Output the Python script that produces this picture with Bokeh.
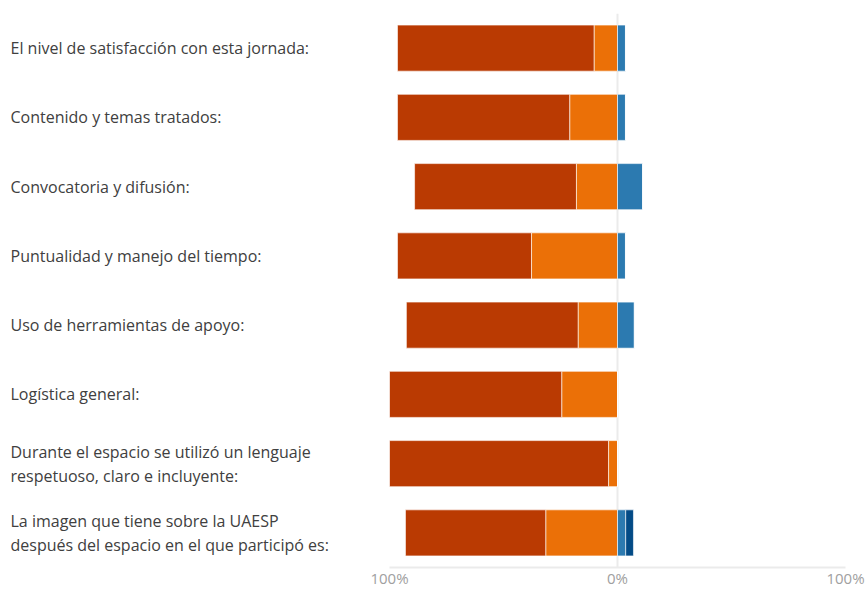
from bokeh.plotting import figure
from bokeh.layouts import row
from bokeh.models import Range1d, FactorRange, FixedTicker, ColumnDataSource
from bokeh.core.properties import value
from bokeh.embed import file_html
from bokeh.resources import INLINE

categories = [
    "El nivel de satisfacción con esta jornada:",
    "Contenido y temas tratados:",
    "Convocatoria y difusión:",
    "Puntualidad y manejo del tiempo:",
    "Uso de herramientas de apoyo:",
    "Logística general:",
    "Durante el espacio se utilizó un lenguaje\nrespetuoso, claro e incluyente:",
    "La imagen que tiene sobre la UAESP\ndespués del espacio en el que participó es:",
]
very_neg = [86.3, 75.6, 71.0, 58.8, 75.4, 75.6, 96.1, 61.6]
neg = [10.2, 20.9, 18.0, 37.7, 17.2, 24.4, 3.9, 31.4]
pos = [3.5, 3.5, 11.0, 3.5, 7.4, 0.0, 0.0, 3.6]
very_pos = [0.0, 0.0, 0.0, 0.0, 0.0, 0.0, 0.0, 3.4]
tick_values = [-100, 0, 100]
tick_labels = {-100: "100%", 0: "0%", 100: "100%"}

colors = ["#BA3A02", "#EB7007", "#2C7AB0", "#034B86"]

y_range = FactorRange(factors=list(reversed(categories)), range_padding=0)

src = ColumnDataSource(dict(
    cat=categories,
    vn_l=[-(a + b) for a, b in zip(very_neg, neg)],
    vn_r=[-b for b in neg],
    n_l=[-b for b in neg],
    zero=[0.0] * len(categories),
    p_r=pos,
    vp_r=[a + b for a, b in zip(pos, very_pos)],
))

FONT = "Open Sans"
TOP = 13
FH = 554

# label panel
lab = figure(width=360, frame_height=FH, x_range=Range1d(0, 1), y_range=y_range,
             toolbar_location=None, output_backend="svg",
             min_border_left=10, min_border_right=0, min_border_top=TOP,
             min_border_bottom=22, outline_line_color=None)
lab.axis.visible = False
lab.grid.visible = False
lab.text(x=0, y="cat", text="cat", source=src, text_align="left",
         text_baseline="middle", text_font=value(FONT), text_font_size="16px",
         text_color="#404040", text_line_height=1.1)

p = figure(frame_width=456, frame_height=FH, x_range=Range1d(-100, 100), y_range=y_range,
           toolbar_location=None, output_backend="svg",
           min_border_left=29, min_border_right=22, min_border_top=TOP,
           min_border_bottom=22, outline_line_color=None)
p.yaxis.visible = False
p.ygrid.visible = False
p.xgrid.ticker = FixedTicker(ticks=tick_values)
p.xgrid.grid_line_color = "#ebebeb"
p.xgrid.grid_line_width = 2
p.xaxis.ticker = FixedTicker(ticks=tick_values)
p.xaxis.major_label_overrides = tick_labels
p.xaxis.axis_line_color = "#ebebeb"
p.xaxis.axis_line_width = 2
p.xaxis.major_tick_line_color = None
p.xaxis.minor_tick_line_color = None
p.xaxis.major_tick_out = 0
p.xaxis.major_tick_in = 0
p.xaxis.major_label_standoff = 0
p.xaxis.major_label_text_font = FONT
p.xaxis.major_label_text_font_size = "15px"
p.xaxis.major_label_text_color = "#a0a0a0"

H = 0.665
common = dict(y="cat", height=H, source=src, line_color="white", line_alpha=0.6, line_width=1)
p.hbar(left="vn_l", right="vn_r", fill_color=colors[0], **common)
p.hbar(left="n_l", right="zero", fill_color=colors[1], **common)
p.hbar(left="zero", right="p_r", fill_color=colors[2], **common)
p.hbar(left="p_r", right="vp_r", fill_color=colors[3], **common)

layout = row(lab, p, spacing=0)
open("out.html", "w").write(file_html(layout, INLINE))
